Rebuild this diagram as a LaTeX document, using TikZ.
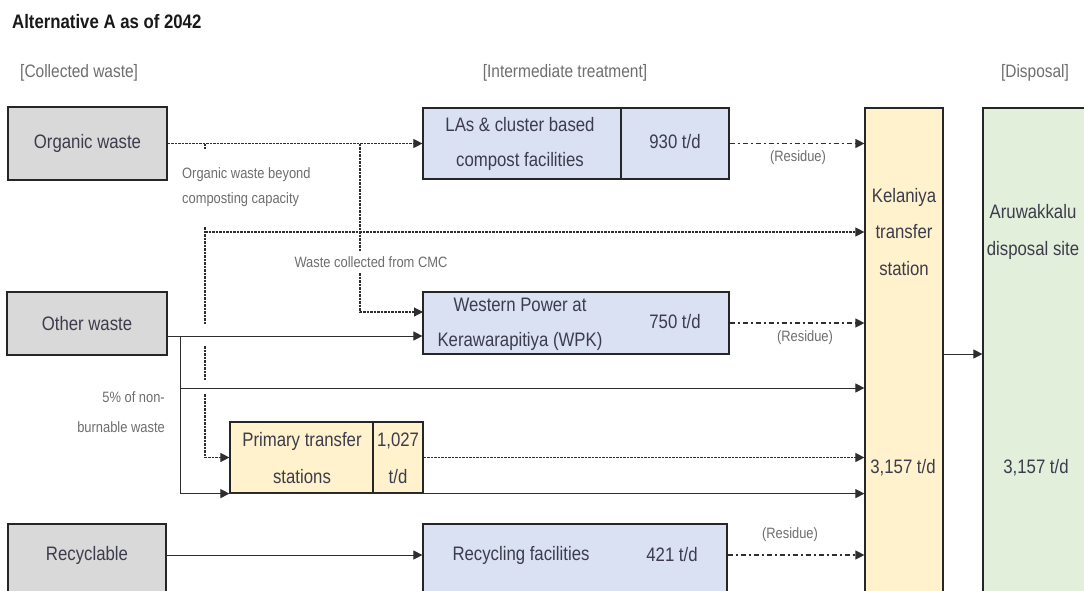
\documentclass[tikz,border=0pt]{standalone}
\usepackage{fontspec}
\setmainfont{Liberation Sans}[FakeStretch=0.86]
\usetikzlibrary{arrows.meta,fit}
\definecolor{gbox}{HTML}{D9D9D9}
\definecolor{bbox}{HTML}{D9E1F2}
\definecolor{ybox}{HTML}{FFF2CC}
\definecolor{gnbox}{HTML}{E2EFDA}
\definecolor{boxtext}{HTML}{3C3C4C}
\definecolor{lbltext}{HTML}{6E6E6E}
\definecolor{linec}{HTML}{2E2E2E}
\begin{document}
\begin{tikzpicture}[x=1pt,y=-1pt,
  box/.style={draw=black!85, line width=1.2pt, inner sep=0pt},
  txt/.style={text=boxtext, inner sep=0pt, align=center, font=\fontsize{19.5}{35}\selectfont},
  lbl/.style={text=lbltext, inner sep=0pt, font=\fontsize{15}{25}\selectfont},
  hd/.style={text=lbltext, inner sep=0pt, font=\fontsize{18}{20}\selectfont},
  tip/.style={-{Triangle[length=9pt,width=9pt]}},
  sl/.style={draw=linec, line width=1pt},
  dl/.style={draw=linec, line width=1.1pt, dash pattern=on 2.5pt off 1pt},
  ddl/.style={draw=linec, line width=1.2pt, dash pattern=on 5pt off 3pt on 2pt off 3pt},
]
\useasboundingbox (0,0) rectangle (1084,590);
\clip (0,0) rectangle (1084,590);
\fill[white] (0,0) rectangle (1084,590);

% headings
\node[anchor=west, inner sep=0pt, text=black!90, font=\fontsize{19.5}{22}\selectfont\bfseries] (title) at (12,22) {Alternative A as of 2042};
\node[hd, anchor=west] (h1) at (20,73) {[Collected waste]};
\node[hd] (h2) at (565,73) {[Intermediate treatment]};
\node[hd] (h3) at (1035,73) {[Disposal]};

% boxes
\node[box, fill=gbox, fit={(8,107)(167,180)}] (org) {};
\node[box, fill=gbox, fit={(7,292)(167,355)}] (oth) {};
\node[box, fill=gbox, fit={(8,524)(166,640)}] (rcy) {};
\node[box, fill=bbox, fit={(423,108)(729,179)}] (las) {};
\node[box, fill=bbox, fit={(423,292)(729,354)}] (wpk) {};
\node[box, fill=ybox, fit={(230,422)(423,493)}] (pts) {};
\node[box, fill=bbox, fit={(423,524)(727,640)}] (rf) {};
\node[box, fill=ybox, fit={(865,108)(943,640)}] (kel) {};
\node[box, fill=gnbox, fit={(983,108)(1110,640)}] (aru) {};
\draw[black!85, line width=1.2pt] (621,108) -- (621,179);
\draw[black!85, line width=1.2pt] (373,422) -- (373,493);

% box texts
\node[txt] (torg) at (87.5,143.5) {Organic waste};
\node[txt] (toth) at (87,323.5) {Other waste};
\node[txt] (trcy) at (87,555) {Recyclable};
\node[txt] (tlas) at (520,143.5) {LAs \& cluster based\\compost facilities};
\node[txt] (qlas) at (675,142) {930 t/d};
\node[txt] (twpk) at (520,324) {Western Power at\\Kerawarapitiya (WPK)};
\node[txt] (qwpk) at (675,322) {750 t/d};
\node[txt, font=\fontsize{19.5}{37}\selectfont] (tpts) at (302,458) {Primary transfer\\stations};
\node[txt, font=\fontsize{19.5}{37}\selectfont] (qpts) at (398,458) {1,027\\t/d};
\node[txt] (trf) at (521,555) {Recycling facilities};
\node[txt] (qrf) at (672,555) {421 t/d};
\node[txt, font=\fontsize{19.5}{36.5}\selectfont] (tkel) at (904,232) {Kelaniya\\transfer\\station};
\node[txt, font=\fontsize{19.5}{37}\selectfont] (taru) at (1033,232) {Aruwakkalu\\disposal site};
\node[txt] (qkel) at (903,468) {3,157 t/d};
\node[txt] (qaru) at (1036,468) {3,157 t/d};

% coordinates
\coordinate (ja) at (205,143.5);
\coordinate (jb) at (360,143.5);
\coordinate (jc) at (205,232);
\coordinate (jd) at (205,227);
\coordinate (w1) at (423,312);
\coordinate (o1) at (167,336);
\coordinate (o2) at (180,336);
\coordinate (o3) at (180,388);
\coordinate (r1) at (166,555);
\coordinate (k1) at (943,354);

% dotted connectors
\draw[dl, tip] (org.east) -- (las.west);
\draw[dl] (ja) -- ++(0,5);
\draw[dl, tip] (jd) -- (205,325) (205,346) -- (205,380) (205,394) |- (pts.west);
\draw[dl, tip] (jc) -- (kel.west |- jc);
\draw[dl, tip] (jb) |- (w1);
\draw[dl, tip] (pts.east) -- (kel.west |- pts.east);

% solid connectors
\draw[sl, tip] (o1) -- (wpk.west |- o1);
\draw[sl, tip] (o2) |- (pts.south west);
\draw[sl, tip] (pts.south west) -- (kel.west |- pts.south west);
\draw[sl, tip] (o3) -- (kel.west |- o3);
\draw[sl, tip] (r1) -- (rf.west |- r1);
\draw[sl, tip] (k1) -- (aru.west |- k1);

% residue connectors
\draw[ddl, tip] (las.east) -- (kel.west |- las.east);
\draw[ddl, tip] (wpk.east) -- (kel.west |- wpk.east);
\draw[ddl, tip] (rf.east |- r1) -- (kel.west |- r1);

% labels
\node[lbl, anchor=west, align=left] (l1) at (182,187.5) {Organic waste beyond\\composting capacity};
\node[lbl, fill=white, inner sep=5pt] (l2) at (371,262) {Waste collected from CMC};
\node[lbl, anchor=east, align=right, font=\fontsize{15}{30}\selectfont] (l3) at (165,412) {5\% of non-\\burnable waste};
\node[lbl] (r1l) at (798,158) {(Residue)};
\node[lbl] (r2l) at (805,338) {(Residue)};
\node[lbl] (r3l) at (790,535) {(Residue)};
\end{tikzpicture}
\end{document}
